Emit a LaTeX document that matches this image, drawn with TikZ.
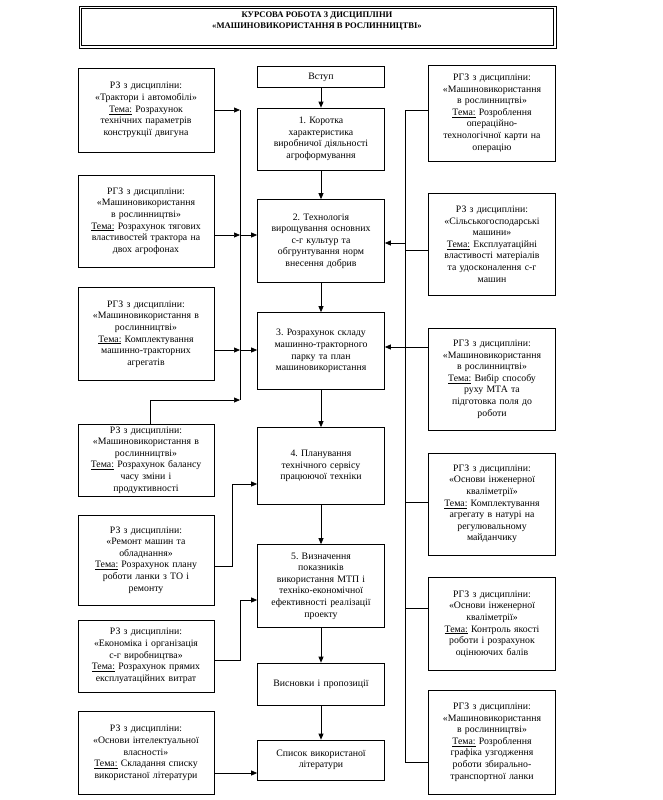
\documentclass[tikz,border=0pt]{standalone}
\usepackage{fontspec}
\setmainfont{Liberation Serif}
\usetikzlibrary{arrows.meta}

\tikzset{
  box/.style={draw, line width=0.7pt, align=center, inner sep=1pt,
    font=\fontsize{9.8}{11.6}\selectfont},
  lbox/.style={box, minimum width=136pt, text width=134pt},
  rbox/.style={box, minimum width=127pt, text width=125pt},
  cbox/.style={box, minimum width=127pt, text width=125pt},
  arr/.style={-{Triangle[length=6pt,width=5pt]}, line width=0.7pt},
  ln/.style={line width=0.7pt},
}
\newcommand{\tema}{\underline{Тема:}}
\frenchspacing

\begin{document}
\begin{tikzpicture}[x=1pt,y=-1pt]
\useasboundingbox (0,0) rectangle (663,800);
% title
\draw[line width=0.6pt] (79,6) rectangle (556,48);
\draw[line width=1.2pt] (81.5,8.5) rectangle (553.5,45.5);
\node[align=center, font=\fontsize{8.6}{10.5}\selectfont\bfseries] (title) at (317,21)
  {КУРСОВА РОБОТА З ДИСЦИПЛІНИ\\«МАШИНОВИКОРИСТАННЯ В РОСЛИННИЦТВІ»};
% centre column
\node[cbox, minimum height=21pt] (vstup) at (321,77) {Вступ};
\node[cbox, minimum height=62pt] (c1) at (321,139)
  {1. Коротка\\характеристика\\виробничої діяльності\\агроформування};
\node[cbox, minimum height=83pt] (c2) at (321,241)
  {2. Технологія\\вирощування основних\\с-г культур та\\обгрунтування норм\\внесення добрив};
\node[cbox, minimum height=77pt] (c3) at (321,351)
  {3. Розрахунок складу\\машинно-тракторного\\парку та план\\машиновикористання};
\node[cbox, minimum height=77pt] (c4) at (321,466)
  {4. Планування\\технічного сервісу\\працюючої техніки};
\node[cbox, minimum height=83pt] (c5) at (321,586)
  {5. Визначення\\показників\\використання МТП і\\техніко-економічної\\ефективності реалізації\\проекту};
\node[cbox, minimum height=42pt] (c6) at (321,684) {Висновки і пропозиції};
\node[cbox, minimum height=40pt] (c7) at (321,760) {Список використаної\\літератури};
\foreach \a/\b in {vstup/c1, c1/c2, c2/c3, c3/c4, c4/c5, c5/c6, c6/c7}
  \draw[arr] (\a) -- (\b);
% left column
\node[lbox, minimum height=84pt] (l1) at (146,110)
  {РЗ з дисципліни:\\«Трактори і автомобілі»\\\tema{} Розрахунок\\технічних параметрів\\конструкції двигуна};
\node[lbox, minimum height=92pt] (l2) at (146,221)
  {РГЗ з дисципліни:\\«Машиновикористання\\в рослинництві»\\\tema{} Розрахунок тягових\\властивостей трактора на\\двох агрофонах};
\node[lbox, minimum height=93pt] (l3) at (146,334)
  {РГЗ з дисципліни:\\«Машиновикористання в\\рослинництві»\\\tema{} Комплектування\\машинно-тракторних\\агрегатів};
\node[lbox, minimum height=72pt] (l4) at (146,460)
  {РЗ з дисципліни:\\«Машиновикористання в\\рослинництві»\\\tema{} Розрахунок балансу\\часу зміни і\\продуктивності};
\node[lbox, minimum height=90pt] (l5) at (146,560)
  {РЗ з дисципліни:\\«Ремонт машин та\\обладнання»\\\tema{} Розрахунок плану\\роботи ланки з ТО і\\ремонту};
\node[lbox, minimum height=72pt] (l6) at (146,656)
  {РЗ з дисципліни:\\«Економіка і організація\\с-г виробництва»\\\tema{} Розрахунок прямих\\експлуатаційних витрат};
\node[lbox, minimum height=83pt] (l7) at (146,753)
  {РЗ з дисципліни:\\«Основи інтелектуальної\\власності»\\\tema{} Складання списку\\використаної літератури};
% right column
\node[rbox, minimum height=96pt] (r1) at (492,113)
  {РГЗ з дисципліни:\\«Машиновикористання\\в рослинництві»\\\tema{} Розроблення\\операційно-\\технологічної карти на\\операцію};
\node[rbox, minimum height=102pt] (r2) at (492,244)
  {РЗ з дисципліни:\\«Сільськогосподарські\\машини»\\\tema{} Експлуатаційні\\властивості матеріалів\\та удосконалення с-г\\машин};
\node[rbox, minimum height=102pt] (r3) at (492,379)
  {РГЗ з дисципліни:\\«Машиновикористання\\в рослинництві»\\\tema{} Вибір способу\\руху МТА та\\підготовка поля до\\роботи};
\node[rbox, minimum height=102pt] (r4) at (492,504)
  {РГЗ з дисципліни:\\«Основи інженерної\\кваліметрії»\\\tema{} Комплектування\\агрегату в натурі на\\регулювальному\\майданчику};
\node[rbox, minimum height=93pt] (r5) at (492,624)
  {РГЗ з дисципліни:\\«Основи інженерної\\кваліметрії»\\\tema{} Контроль якості\\роботи і розрахунок\\оцінюючих балів};
\node[rbox, minimum height=104pt] (r6) at (492,742)
  {РГЗ з дисципліни:\\«Машиновикористання\\в рослинництві»\\\tema{} Розроблення\\графіка узгодження\\роботи збирально-\\транспортної ланки};
% left connectors
\coordinate (lt1) at (240,110);
\coordinate (lt2) at (240,400);
\draw[ln] (lt1) -- (lt2);
\draw[arr] (l1.east |- lt1) -- (lt1);
\draw[arr] (l2.east |- 0,235) -- (240,235);
\draw[arr] (l3.east |- 0,350) -- (240,350);
\draw[arr] (l4.north -| 150,0) |- (lt2);
\draw[arr] (240,235) -- (c2.west |- 0,235);
\draw[arr] (240,350) -- (c3.west |- 0,350);
\draw[arr] (l5.east |- 0,566) -| (232,484) -- (c4.west |- 0,484);
\draw[arr] (l6.east |- 0,660) -| (240,600) -- (c5.west |- 0,600);
\draw[arr] (l7.east |- 0,773) -- (c7.west |- 0,773);
% right connectors
\coordinate (rt1) at (405,110);
\coordinate (rt2) at (405,762);
\draw[ln] (rt1) -- (rt2);
\foreach \n/\y in {r1/110, r2/250, r3/347, r4/502, r5/608, r6/762}
  \draw[ln] (\n.west |- 0,\y) -- (405,\y);
\draw[arr] (405,243) -- (c2.east |- 0,243);
\draw[arr] (405,347) -- (c3.east |- 0,347);
\end{tikzpicture}
\end{document}
